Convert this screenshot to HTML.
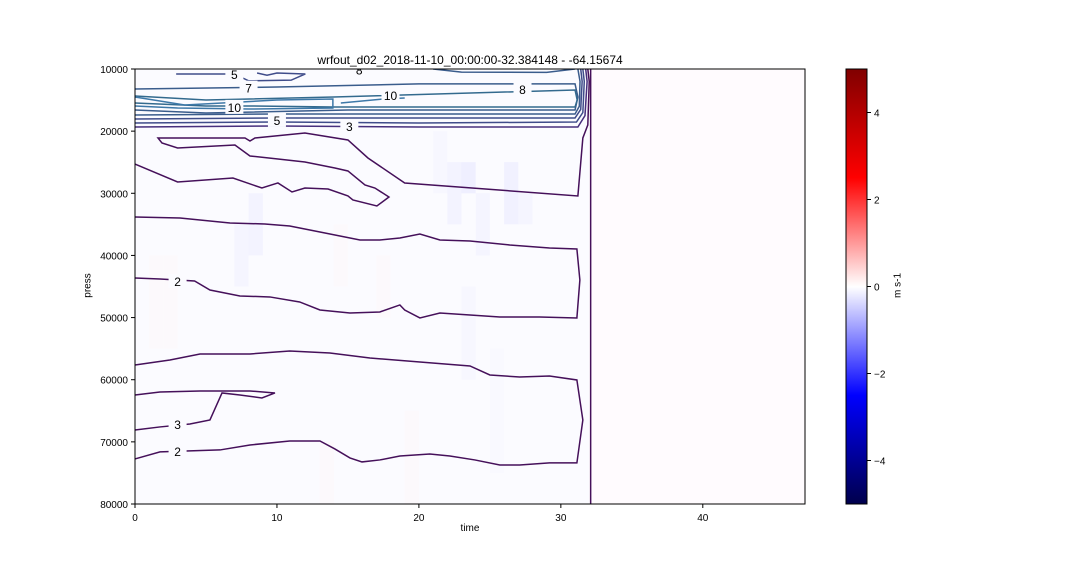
<!DOCTYPE html>
<html><head><meta charset="utf-8"><style>
body{margin:0;background:#fff;}
svg text{font-family:"Liberation Sans","DejaVu Sans",sans-serif;}
</style></head><body>
<svg id="chart" width="1080" height="576" xmlns="http://www.w3.org/2000/svg"></svg>
<script>
const xTicks=[0,10,20,30,40];
const yTicks=[10000,20000,30000,40000,50000,60000,70000,80000];
const cbTicks=[-4,-2,0,2,4];
const cells=[[22,25000,35000,-0.25],[23,25000,30000,-0.35],[24,30000,40000,-0.2],[26,25000,35000,-0.3],[23,45000,60000,-0.15],[7,35000,45000,-0.2],[8,30000,40000,-0.25],[1,40000,55000,0.08],[2,40000,55000,0.1],[14,35000,45000,0.1],[17,40000,50000,0.08],[13,70000,80000,0.1],[19,65000,80000,0.1],[21,20000,30000,-0.15],[25,55000,75000,-0.1],[27,30000,35000,-0.2]];
const contours=[
 {lv:2,pts:[[0,72750],[1.76,71620],[3.87,71460],[5.99,71300],[8.1,70500],[10.9,69860],[13.03,69860],[14.08,71140],[15.14,72590],[15.99,73230],[17.25,72910],[18.66,72270],[20.77,71950],[22.18,72270],[23.94,72910],[25.7,73720],[27.1,73720],[29.2,73390],[31.13,73390],[31.55,66480],[31.13,60040],[29.2,59400],[27.1,59560],[25.0,59240],[23.6,57790],[20.07,57150],[16.55,56500],[13.73,55700],[10.9,55370],[8.1,55860],[4.58,55860],[2.46,56820],[0,57630]]},
 {lv:2,pts:[[0,68090],[1.76,67600],[3.87,67120],[5.28,66480],[6.13,62130],[7.39,62460],[8.94,62940],[9.86,62130],[8.1,61810],[4.58,61810],[1.76,61970],[0,62460]]},
 {lv:2,pts:[[0,43630],[1.76,43790],[4.2,44110],[5.28,45560],[7.39,46520],[9.5,46680],[11.6,47490],[13.03,48780],[15.14,49260],[17.25,49100],[18.66,47970],[19.0,48780],[20.07,50060],[21.48,49260],[23.6,49580],[25.7,49900],[28.5,49900],[31.13,50060],[31.34,43950],[31.13,38960],[29.2,38800],[26.4,38320],[23.6,37680],[21.48,37510],[20.07,36550],[18.66,37190],[17.25,37510],[15.85,37510],[13.03,36230],[10.9,35260],[9.15,34940],[6.69,34780],[3.17,33970],[0,33810]]},
 {lv:2,pts:[[0,25290],[3.0,28180],[6.9,27540],[8.94,29150],[10.07,28340],[11.06,29790],[11.97,29150],[13.6,29310],[15.0,30430],[15.35,31080],[17.04,32040],[17.89,30600],[16.9,29150],[16.2,28660],[15.0,26410],[14.08,25930],[11.97,24960],[10.07,24480],[8.1,24000],[7.04,22230],[3.0,22710],[1.9,21910],[1.62,21100],[7.75,21100],[8.1,21590],[8.45,21100],[11.97,20300],[15.0,21420],[16.41,24320],[19.0,28340],[31.2,30430],[31.55,21100],[31.9,19000],[32.0,12000],[31.9,10000]]},
 {lv:2,pts:[[32.1,10000],[32.1,80000]]},
 {lv:3,pts:[[0,19330],[10,19170],[20,19330],[31.2,19330],[31.7,17500],[31.85,12000],[31.75,10000]]},
 {lv:5,pts:[[0,18690],[10,18530],[20,18690],[31.1,18530],[31.55,17000],[31.65,12000],[31.55,10000]]},
 {lv:5,pts:[[0,18050],[10,17880],[31.0,17880],[31.4,16500],[31.5,12000],[31.4,10000]]},
 {lv:7,pts:[[0,17400],[10,17240],[31.0,17240],[31.3,16000],[31.35,12000],[31.2,10000]]},
 {lv:7,pts:[[0,16600],[5,17080],[15,16600],[31.0,16600],[31.2,14500],[31.0,12400],[20,12400],[10,12900],[0,13220]]},
 {lv:8,pts:[[0,14340],[5,14990],[14,14500],[31.0,13380],[31.15,14990],[31.0,16110],[14,16110],[8,15950],[5,15950],[0,15470]]},
 {lv:10,pts:[[0,14500],[3.5,15790],[10,14990],[13.94,14830],[13.94,16280],[8,16440],[3,16280],[0,15950]]},
 {lv:10,pts:[[14.5,15470],[16,15150],[17.5,14830],[19,14670]]},
 {lv:5,pts:[[2.9,10800],[7,10800],[8,11900],[11,11800],[12,10800],[10,10650],[9.3,11000],[8.6,10650]]},
 {lv:7,pts:[[21,10000],[23,10500],[29,10550],[31,10000]]}
];
const labels=[[7,10800,"5"],[8,13000,"7"],[7,16100,"10"],[18,14200,"10"],[27.3,13220,"8"],[10,18200,"5"],[15.1,19170,"3"],[3,44110,"2"],[3,67120,"3"],[3,71460,"2"],[15.8,10050,"8"]];
const colors={2:"#45105a",3:"#472f7d",5:"#3f4c8a",7:"#3a5c8c",8:"#336a8e",10:"#3d78a8"};
const L=135,R=805,T=69,B=504;
const X=t=>L+t*(R-L)/47.2, Y=p=>T+(p-10000)*(B-T)/70000;
const CB=v=>T+(5-v)*(B-T)/10;
const s=document.getElementById('chart'),NS="http://www.w3.org/2000/svg";
function mk(tag,attrs,parent){const e=document.createElementNS(NS,tag);for(const k in attrs)e.setAttribute(k,attrs[k]);(parent||s).appendChild(e);return e;}
function col(v){const f=Math.min(1,Math.abs(v)/5);const c=Math.round(255*(1-2*f));return v<0?`rgb(${c},${c},255)`:`rgb(255,${c},${c})`;}
const plot=mk('g',{});


mk('rect',{x:L,y:T,width:X(32)-L,height:B-T,fill:"#fbfbff"},plot);
mk('rect',{x:X(32),y:T,width:R-X(32),height:B-T,fill:"#fffbfe"},plot);
cells.forEach(c=>{const r=mk('rect',{x:X(c[0]),y:Y(c[1]),width:X(1)-X(0),height:Y(c[2])-Y(c[1]),fill:col(c[3]),opacity:0.35},plot);

});
contours.forEach(c=>{const p=mk('polyline',{points:c.pts.map(q=>X(q[0])+","+Y(q[1])).join(" "),fill:"none",stroke:colors[c.lv],"stroke-width":1.5},plot);

});
labels.forEach(l=>{const x=X(l[0]),y=Y(l[1]);mk('rect',{x:x-9,y:y-7,width:18,height:14,fill:"#fbfbff"},plot);
const t=mk('text',{x:x,y:y+5,"text-anchor":"middle","font-size":12,fill:"#000"},plot);t.textContent=l[2];

});
mk('rect',{x:0,y:0,width:1080,height:T,fill:"#fff"});
const fr=mk('rect',{x:L,y:T,width:R-L,height:B-T,fill:"none",stroke:"#000","stroke-width":1});


xTicks.forEach(v=>{mk('line',{x1:X(v),x2:X(v),y1:B,y2:B+4,stroke:"#000"});const t=mk('text',{x:X(v),y:B+17,"text-anchor":"middle","font-size":10});t.textContent=v;

});
yTicks.forEach(v=>{mk('line',{x1:L-4,x2:L,y1:Y(v),y2:Y(v),stroke:"#000"});const t=mk('text',{x:L-7,y:Y(v)+4,"text-anchor":"end","font-size":10});t.textContent=v;

});
const defs=mk('defs',{});const g=mk('linearGradient',{id:"seis",x1:0,y1:1,x2:0,y2:0},defs);
[[0,"#00004c"],[0.25,"#0000ff"],[0.5,"#ffffff"],[0.75,"#ff0000"],[1,"#800000"]].forEach(st=>mk('stop',{offset:st[0],"stop-color":st[1]},g));
const cb=mk('rect',{x:846,y:T,width:21,height:B-T,fill:"url(#seis)",stroke:"#000","stroke-width":1});


cbTicks.forEach(v=>{mk('line',{x1:867,x2:871,y1:CB(v),y2:CB(v),stroke:"#000"});const t=mk('text',{x:874,y:CB(v)+4,"font-size":10});t.textContent=v===0?"0":(v<0?"\u2212"+(-v):v);

});
</script>
<div style="position:absolute;left:0;top:0;width:1080px;height:576px;pointer-events:none;font-family:'Liberation Sans',sans-serif;">
<div style="position:absolute;left:0;width:940px;top:53px;text-align:center;font-size:12px;">wrfout_d02_2018-11-10_00:00:00-32.384148 - -64.15674</div>
<div style="position:absolute;left:440px;width:60px;top:523px;text-align:center;font-size:10px;">time</div>
<div style="position:absolute;left:58px;top:280px;width:60px;text-align:center;font-size:10px;transform:rotate(-90deg);">press</div>
<div style="position:absolute;left:868px;top:280px;width:60px;text-align:center;font-size:10px;transform:rotate(-90deg);">m s-1</div>
</div>
</body></html>
